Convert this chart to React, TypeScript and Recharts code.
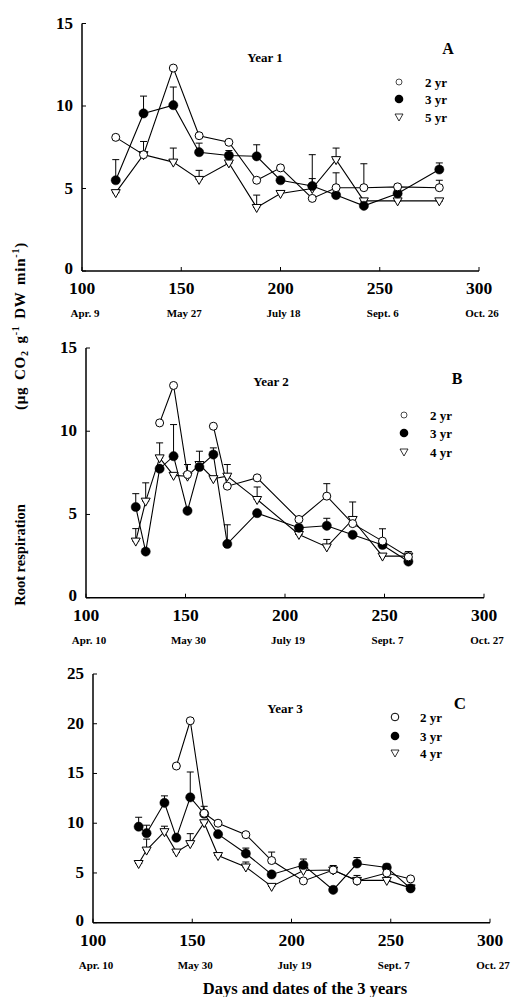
import React from 'react';
import { LineChart, Line, XAxis, YAxis, ErrorBar } from 'recharts';

// ---------- Panel A (Year 1) ----------
const daysA = [117, 131, 146, 159, 174, 188, 200, 216, 228, 242, 259, 280];
const a2yr = [8.1, 7.05, 12.3, 8.2, 7.8, 5.5, 6.25, 4.4, 5.05, 5.05, 5.1, 5.05];
const a3yr = [5.5, 9.55, 10.05, 7.2, 7.0, 6.95, 5.5, 5.15, 4.6, 3.95, 4.7, 6.15];
const a5yr = [4.75, 7.05, 6.6, 5.55, 6.55, 3.85, 4.7, 5.0, 6.75, 4.25, 4.25, 4.25];
const a2err = [0, 0, 0, 0, 0, 0, 0.15, 0, 0.9, 1.45, 0.15, 0.45];
const a3err = [1.25, 1.05, 1.1, 0.55, 0.3, 0.7, 0, 1.9, 0, 0, 0, 0.4];
const a5err = [0, 0.8, 0.85, 0.55, 0, 0.75, 0, 0.6, 0.7, 0, 0, 0];
const datesA = ['Apr. 9', 'May 27', 'July 18', 'Sept. 6', 'Oct. 26'];

// ---------- Panel B (Year 2) ----------
const daysB = [125, 130, 137, 144, 151, 157, 164, 171, 186, 207, 221, 234, 249, 262];
const b2yr = [null, null, 10.5, 12.75, 7.4, null, 10.3, 6.7, 7.2, 4.7, 6.1, 4.45, 3.4, 2.45];
const b3yr = [5.45, 2.77, 7.75, 8.5, 5.22, 7.85, 8.6, 3.23, 5.08, 4.2, 4.32, 3.78, 3.17, 2.17];
const b4yr = [3.4, 5.8, 8.4, 7.35, 7.3, 8.0, 7.15, 7.3, 5.9, 3.8, 3.05, 4.7, 2.5, 2.5];
const b2err = [0, 0, 0, 0, 0, 0, 0, 0, 0, 0, 0.75, 0, 0, 0];
const b3err = [0.8, 0, 0, 1.9, 0, 0.95, 0.4, 1.15, 0, 0, 0.45, 0, 0.97, 0.6];
const b4err = [0.75, 1.1, 0.9, 0, 0.7, 0, 0, 0.7, 0.75, 0, 0.45, 1.05, 0, 0];
const datesB = ['Apr. 10', 'May 30', 'July 19', 'Sept. 7', 'Oct. 27'];

// ---------- Panel C (Year 3) ----------
const daysC = [123, 127, 136, 142, 149, 156, 163, 177, 190, 206, 221, 233, 248, 260];
const c2yr = [null, null, null, 15.75, 20.3, 11.0, 10.0, 8.85, 6.25, 4.2, 5.3, 4.2, 5.0, 4.4];
const c3yr = [9.65, 9.0, 12.05, 8.55, 12.6, 10.95, 8.9, 6.95, 4.85, 5.8, 3.3, 5.95, 5.55, 3.45];
const c4yr = [5.95, 7.3, 9.15, 7.1, 7.95, 10.05, 6.75, 5.6, 3.65, 5.25, 5.3, 4.25, 4.25, 3.5];
const c2err = [0, 0, 0, 0, 0, 0, 0, 0, 0.85, 0, 0, 0, 0, 0];
const c3err = [0.95, 0.8, 0.7, 0, 2.55, 0.75, 0, 0.55, 0, 0.6, 0, 0.6, 0.35, 0];
const c4err = [0, 1.1, 0.55, 0, 1.0, 0, 0, 0.5, 0, 0, 0.45, 0.5, 0, 0];
const datesC = ['Apr. 10', 'May 30', 'July 19', 'Sept. 7', 'Oct. 27'];

const xTicks = [100, 150, 200, 250, 300];
const yTicks15 = [0, 5, 10, 15];
const yTicks25 = [0, 5, 10, 15, 20, 25];

const FONT = '"Liberation Serif", "Times New Roman", serif';

function buildRows(days: number[], s1: (number | null)[], s2: number[], s3: number[], e1: number[], e2: number[], e3: number[]) {
  return days.map((d, i) => ({
    day: d,
    s1: s1[i],
    s2: s2[i],
    s3: s3[i],
    e1: [0, e1[i]],
    e2: [0, e2[i]],
    e3: [0, e3[i]],
  }));
}

const rowsA = buildRows(daysA, a2yr, a3yr, a5yr, a2err, a3err, a5err);
const rowsB = buildRows(daysB, b2yr, b3yr, b4yr, b2err, b3err, b4err);
const rowsC = buildRows(daysC, c2yr, c3yr, c4yr, c2err, c3err, c4err);

const OpenDot = (p: any) => {
  if (p.cx == null || p.cy == null || p.value == null || (Array.isArray(p.value) && p.value[1] == null)) return <g key={`o${p.index}`} />;
  return <circle key={`o${p.index}`} cx={p.cx} cy={p.cy} r={4} fill="#fff" stroke="#000" strokeWidth={1} />;
};
const FilledDot = (p: any) => {
  if (p.cx == null || p.cy == null) return <g key={`f${p.index}`} />;
  return <circle key={`f${p.index}`} cx={p.cx} cy={p.cy} r={4.6} fill="#000" stroke="#000" strokeWidth={0.5} />;
};
const TriDot = (p: any) => {
  if (p.cx == null || p.cy == null) return <g key={`t${p.index}`} />;
  const { cx, cy } = p;
  return (
    <polygon
      key={`t${p.index}`}
      points={`${cx - 4.5},${cy - 3} ${cx + 4.5},${cy - 3} ${cx},${cy + 5}`}
      fill="#fff"
      stroke="#000"
      strokeWidth={1}
    />
  );
};

const XTick = (props: any) => {
  const { x, y, payload, dates } = props;
  const idx = xTicks.indexOf(payload.value);
  return (
    <g>
      <line x1={x} x2={x} y1={y} y2={y - 4} stroke="#000" strokeWidth={1} />
      <text x={x} y={y + 23} textAnchor="middle" fontFamily={FONT} fontWeight="bold" fontSize={17.5} fill="#000">
        {payload.value}
      </text>
      <text x={x + 3} y={y + 46} textAnchor="middle" fontFamily={FONT} fontWeight="bold" fontSize={11} fill="#000">
        {dates[idx]}
      </text>
    </g>
  );
};
const TopTick = (props: any) => {
  const { x, y } = props;
  return <line x1={x} x2={x} y1={y} y2={y + 4} stroke="#000" strokeWidth={1} />;
};
const YTick = (props: any) => {
  const { x, y, payload } = props;
  return (
    <g>
      <line x1={x} x2={x + 4} y1={y} y2={y} stroke="#000" strokeWidth={1} />
      <text x={x - 9} y={y + (payload.value === 0 ? 3 : 5)} textAnchor="end" fontFamily={FONT} fontWeight="bold" fontSize={17} fill="#000">
        {payload.value}
      </text>
    </g>
  );
};
const RightTick = (props: any) => {
  const { x, y } = props;
  return <line x1={x} x2={x - 4} y1={y} y2={y} stroke="#000" strokeWidth={1} />;
};

type PanelProps = {
  rows: any[];
  dates: string[];
  divTop: number;
  divH: number;
  plotLeft: number;
  plotRight: number;
  plotTop: number;
  plotBottom: number;
  yMax: number;
  yTicks: number[];
};

const AXIS_H = 50;
const YAXIS_W = 60;

function Panel({ rows, dates, divTop, divH, plotLeft, plotRight, plotTop, plotBottom, yMax, yTicks }: PanelProps) {
  const margin = {
    top: plotTop - divTop,
    bottom: divH - (plotBottom - divTop) - AXIS_H,
    left: plotLeft - YAXIS_W,
    right: 512 - plotRight,
  };
  const axisLine = { stroke: '#000', strokeWidth: 1.5 };
  return (
    <div style={{ position: 'absolute', left: 0, top: divTop, width: 512, height: divH }}>
      <LineChart width={512} height={divH} data={rows} margin={margin}>
        <XAxis
          dataKey="day"
          type="number"
          domain={[100, 300]}
          ticks={xTicks}
          interval={0}
          allowDataOverflow
          tickSize={0}
          tickMargin={0}
          height={AXIS_H}
          axisLine={axisLine}
          tickLine={false}
          tick={<XTick dates={dates} />}
        />
        <XAxis
          xAxisId="top"
          orientation="top"
          type="number"
          domain={[100, 300]}
          ticks={xTicks}
          interval={0}
          allowDataOverflow
          tickSize={0}
          tickMargin={0}
          height={0}
          axisLine={axisLine}
          tickLine={false}
          tick={<TopTick />}
        />
        <YAxis
          type="number"
          domain={[0, yMax]}
          ticks={yTicks}
          interval={0}
          allowDataOverflow
          tickSize={0}
          tickMargin={0}
          width={YAXIS_W}
          axisLine={axisLine}
          tickLine={false}
          tick={<YTick />}
        />
        <YAxis
          yAxisId="right"
          orientation="right"
          type="number"
          domain={[0, yMax]}
          ticks={yTicks}
          interval={0}
          allowDataOverflow
          tickSize={0}
          tickMargin={0}
          width={0}
          axisLine={axisLine}
          tickLine={false}
          tick={<RightTick />}
        />
        <Line type="linear" dataKey="s3" stroke="#000" strokeWidth={1.1} dot={TriDot} isAnimationActive={false}>
          <ErrorBar dataKey="e3" direction="y" width={3.5} stroke="#000" strokeWidth={1} isAnimationActive={false} />
        </Line>
        <Line type="linear" dataKey="s2" stroke="#000" strokeWidth={1.1} dot={FilledDot} isAnimationActive={false}>
          <ErrorBar dataKey="e2" direction="y" width={3.5} stroke="#000" strokeWidth={1} isAnimationActive={false} />
        </Line>
        <Line type="linear" dataKey="s1" stroke="#000" strokeWidth={1.1} dot={OpenDot} isAnimationActive={false}>
          <ErrorBar dataKey="e1" direction="y" width={3.5} stroke="#000" strokeWidth={1} isAnimationActive={false} />
        </Line>
      </LineChart>
    </div>
  );
}

function Legend({ sx, tx, ys, labels, small }: { sx: number; tx: number; ys: number[]; labels: string[]; small?: boolean }) {
  return (
    <g>
      <circle cx={sx} cy={ys[0]} r={small ? 3 : 3.8} fill="#fff" stroke="#000" strokeWidth={small ? 0.7 : 1} />
      <circle cx={sx} cy={ys[1]} r={4.3} fill="#000" />
      <polygon
        points={`${sx - 4},${ys[2] - 3} ${sx + 4},${ys[2] - 3} ${sx},${ys[2] + 4}`}
        fill="#fff"
        stroke="#000"
        strokeWidth={0.8}
      />
      {labels.map((l, i) => (
        <text key={l} x={tx} y={ys[i] + 4.5} fontFamily={FONT} fontWeight="bold" fontSize={13} fill="#000">
          {l}
        </text>
      ))}
    </g>
  );
}

const legendA = ['2 yr', '3 yr', '5 yr'];
const legendBC = ['2 yr', '3 yr', '4 yr'];

export default function App() {
  return (
    <div style={{ position: 'absolute', left: 0, top: 0, width: 512, height: 997, background: '#fff', overflow: 'hidden' }}>
      <Panel rows={rowsA} dates={datesA} divTop={0} divH={330} plotLeft={82} plotRight={479} plotTop={23.5} plotBottom={271} yMax={15} yTicks={yTicks15} />
      <Panel rows={rowsB} dates={datesB} divTop={325} divH={330} plotLeft={86} plotRight={484} plotTop={348} plotBottom={597.7} yMax={15} yTicks={yTicks15} />
      <Panel rows={rowsC} dates={datesC} divTop={650} divH={347} plotLeft={93} plotRight={490} plotTop={674} plotBottom={922.7} yMax={25} yTicks={yTicks25} />
      <svg width={512} height={997} style={{ position: 'absolute', left: 0, top: 0, pointerEvents: 'none' }}>
        <text transform="translate(25,555) rotate(-90)" textAnchor="middle" fontFamily={FONT} fontWeight="bold" fontSize={14.5} fill="#000">
          Root respiration
        </text>
        <text transform="translate(25,326) rotate(-90)" textAnchor="middle" fontFamily={FONT} fontWeight="bold" fontSize={15} letterSpacing={0.8} wordSpacing={2} fill="#000">
          <tspan>(μg CO</tspan>
          <tspan dy={3} fontSize={10}>2</tspan>
          <tspan dy={-3}> g</tspan>
          <tspan dy={-6} fontSize={10}>-1</tspan>
          <tspan dy={6}> DW min</tspan>
          <tspan dy={-6} fontSize={10}>-1</tspan>
          <tspan dy={6}>)</tspan>
        </text>

        <text x={265} y={62} textAnchor="middle" fontFamily={FONT} fontWeight="bold" fontSize={13}>Year 1</text>
        <text x={448} y={54} textAnchor="middle" fontFamily={FONT} fontWeight="bold" fontSize={16}>A</text>
        <Legend sx={399} tx={425} ys={[82, 99, 117]} labels={legendA} small />

        <text x={271} y={385.5} textAnchor="middle" fontFamily={FONT} fontWeight="bold" fontSize={13}>Year 2</text>
        <text x={457} y={384} textAnchor="middle" fontFamily={FONT} fontWeight="bold" fontSize={16}>B</text>
        <Legend sx={404} tx={430} ys={[415, 433, 452]} labels={legendBC} small />

        <text x={285} y={712.5} textAnchor="middle" fontFamily={FONT} fontWeight="bold" fontSize={13}>Year 3</text>
        <text x={460} y={709} textAnchor="middle" fontFamily={FONT} fontWeight="bold" fontSize={17}>C</text>
        <Legend sx={395} tx={420} ys={[717, 736, 753]} labels={legendBC} />

        <text x={305} y={994} textAnchor="middle" fontFamily={FONT} fontWeight="bold" fontSize={16.5}>Days and dates of the 3 years</text>
      </svg>
    </div>
  );
}
